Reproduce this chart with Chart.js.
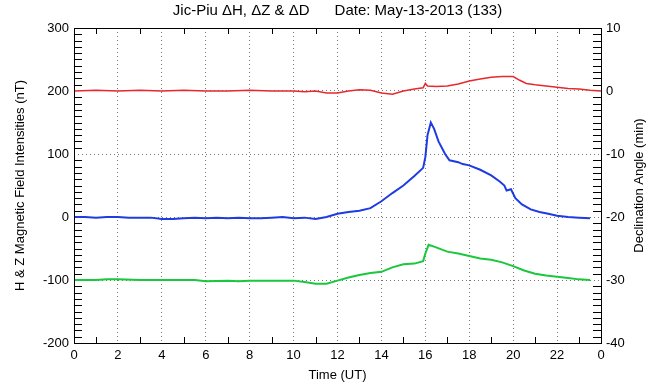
<!DOCTYPE html>
<html>
<head>
<meta charset="utf-8">
<script src="https://cdn.jsdelivr.net/npm/chart.js@4.4.1/dist/chart.umd.min.js"></script>
<style>
  body { margin: 0; background: #fff; }
</style>
</head>
<body>
<canvas id="mag-chart" width="649" height="385"></canvas>
<script>
const ctx = document.getElementById('mag-chart');

// ΔH (nT), left axis
const hTime = [0, 0.5, 1, 1.5, 2, 2.5, 3, 3.5, 4, 4.5, 5, 5.5, 6, 6.5, 7, 7.5, 8, 8.5, 9, 9.5, 10, 10.5, 11, 11.5, 12, 12.5, 13, 13.5, 14, 14.5, 15, 15.5, 15.9, 16.0, 16.1, 16.25, 16.4, 16.6, 16.9, 17.1, 17.5, 17.7, 18, 18.5, 19, 19.4, 19.6, 19.7, 19.9, 20.1, 20.4, 20.8, 21.2, 21.6, 22, 22.5, 23, 23.5]
const hVals = [0, 0, -1, 0, 0, -1, -1, -1, -3, -3, -2, -1, -2, -1, -2, -1, -2, -2, -1, 0, -2, -1, -3, 0, 5, 8, 10, 14, 25, 38, 50, 65, 78, 95, 130, 150, 140, 120, 100, 90, 87, 84, 82, 75, 66, 56, 50, 42, 44, 30, 20, 12, 8, 5, 2, 0, -1, -2]

// ΔZ (nT), left axis
const zTime = [0, 1, 1.5, 2, 3, 4, 5, 5.5, 6, 7, 7.5, 8, 9, 10, 10.5, 11, 11.5, 12, 12.5, 13, 13.5, 14, 14.5, 15, 15.5, 15.9, 16, 16.15, 16.4, 17, 17.5, 18, 18.5, 19, 19.5, 20, 20.5, 21, 21.5, 22, 22.5, 23, 23.5]
const zVals = [-100, -100, -99, -99, -100, -100, -100, -100, -102, -101, -102, -101, -101, -101, -103, -106, -106, -101, -96, -92, -89, -87, -80, -75, -74, -70, -58, -44, -47, -55, -58, -62, -66, -68, -72, -78, -85, -90, -93, -95, -97, -99, -100]

// ΔD (min), right axis
const dTime = [0, 1, 2, 3, 4, 5, 6, 7, 8, 9, 10, 10.5, 11, 11.5, 12, 12.5, 13, 13.5, 14, 14.5, 15, 15.5, 15.9, 16, 16.1, 16.5, 17, 17.5, 18, 18.5, 19, 19.5, 20, 20.3, 20.6, 21, 21.5, 22, 22.5, 23, 23.5, 24]
const dVals = [0, 0.1, 0, 0.1, 0, 0.1, 0, 0, 0.1, 0, 0, -0.1, 0, -0.3, -0.3, 0, 0.2, 0.1, -0.3, -0.5, 0, 0.3, 0.5, 1.2, 0.8, 0.7, 0.8, 1.1, 1.6, 1.9, 2.2, 2.3, 2.3, 1.7, 1.2, 1.0, 0.8, 0.6, 0.4, 0.3, 0.1, 0]

const xTickLabels = ['0', '2', '4', '6', '8', '10', '12', '14', '16', '18', '20', '22', '0']
const rightTitle = 'Declination Angle (min)'

const toPoints = (times, vals) => times.map((t, i) => ({x: t, y: vals[i]}))

const tickFont = {family: 'Liberation Sans', size: 13}
const titleFont = {family: 'Liberation Sans', size: 13}

// frame + inner minor ticks like the IDL plot, right title reads bottom-up
const frameTicks = {
    id: 'frameTicks',
    afterDraw(chart) {
        const {ctx, chartArea: a, scales} = chart
        ctx.save()
        ctx.strokeStyle = '#000'
        ctx.lineWidth = 1
        ctx.beginPath()
        // x minor ticks (odd hours), bottom and top
        for (let h = 1; h < 24; h += 2) {
            const px = Math.round(scales.x.getPixelForValue(h)) + 0.5
            ctx.moveTo(px, a.bottom); ctx.lineTo(px, a.bottom - 6)
            ctx.moveTo(px, a.top); ctx.lineTo(px, a.top + 6)
        }
        // left minor ticks every 10 nT
        for (let v = -190; v < 300; v += 10) {
            if (v % 100 === 0) continue
            const py = Math.round(scales.y.getPixelForValue(v)) + 0.5
            ctx.moveTo(a.left, py); ctx.lineTo(a.left + 8, py)
        }
        // right minor ticks every 1 min
        for (let v = -39; v < 10; v++) {
            if (v % 10 === 0) continue
            const py = Math.round(scales.y2.getPixelForValue(v)) + 0.5
            ctx.moveTo(a.right, py); ctx.lineTo(a.right - 8, py)
        }
        ctx.stroke()
        ctx.strokeRect(Math.round(a.left) + 0.5, Math.round(a.top) + 0.5,
            Math.round(a.right - a.left), Math.round(a.bottom - a.top))

        ctx.translate(639, (a.top + a.bottom) / 2)
        ctx.rotate(-Math.PI / 2)
        ctx.fillStyle = '#000'
        ctx.font = '13px "Liberation Sans"'
        ctx.textAlign = 'center'
        ctx.textBaseline = 'middle'
        ctx.fillText(rightTitle, 0, 0)
        ctx.restore()
    }
}

new Chart(ctx, {
    type: 'line',
    data: {
        datasets: [{
            label: 'ΔD',
            data: toPoints(dTime, dVals),
            yAxisID: 'y2',
            borderColor: 'rgb(232, 40, 45)',
            borderWidth: 1.5,
            pointRadius: 0,
            tension: 0,
            fill: false
        }, {
            label: 'ΔH',
            data: toPoints(hTime, hVals),
            yAxisID: 'y',
            borderColor: 'rgb(30, 60, 225)',
            borderWidth: 2,
            pointRadius: 0,
            tension: 0,
            fill: false
        }, {
            label: 'ΔZ',
            data: toPoints(zTime, zVals),
            yAxisID: 'y',
            borderColor: 'rgb(25, 200, 60)',
            borderWidth: 2,
            pointRadius: 0,
            tension: 0,
            fill: false
        }]
    },
    options: {
        responsive: false,
        animation: false,
        layout: {padding: {top: 0, right: 0, bottom: 0, left: 0}},
        plugins: {
            legend: {display: false},
            tooltip: {enabled: false},
            title: {
                display: true,
                fullSize: false,
                text: 'Jic-Piu ΔH, ΔZ & ΔD      Date: May-13-2013 (133)',
                color: '#000',
                font: {family: 'Liberation Sans', size: 15, weight: 'normal'},
                padding: {top: 2, bottom: 8}
            }
        },
        scales: {
            x: {
                type: 'linear',
                min: 0,
                max: 24,
                ticks: {
                    stepSize: 2,
                    autoSkip: false,
                    maxRotation: 0,
                    color: '#000',
                    font: tickFont,
                    padding: 5,
                    callback: (v) => xTickLabels[v / 2]
                },
                grid: {color: '#777', lineWidth: 1, drawTicks: false},
                border: {display: false, dash: [1, 3]},
                title: {display: true, text: 'Time (UT)', color: '#000', font: titleFont, padding: {top: 0, bottom: 2}},
                afterFit: (s) => { s.height = 42 }
            },
            y: {
                position: 'left',
                min: -200,
                max: 300,
                ticks: {stepSize: 100, color: '#000', font: tickFont, padding: 5},
                grid: {color: '#777', lineWidth: 1, drawTicks: false},
                border: {display: false, dash: [1, 3]},
                title: {display: true, text: 'H & Z Magnetic Field Intensities (nT)', color: '#000', font: titleFont, padding: {top: 13, bottom: 0}},
                afterFit: (s) => { s.width = 74 }
            },
            y2: {
                position: 'right',
                min: -40,
                max: 10,
                ticks: {stepSize: 10, color: '#000', font: tickFont, padding: 5},
                grid: {display: false, drawTicks: false},
                border: {display: false},
                afterFit: (s) => { s.width = 48 }
            }
        }
    },
    plugins: [frameTicks]
})
</script>
</body>
</html>
